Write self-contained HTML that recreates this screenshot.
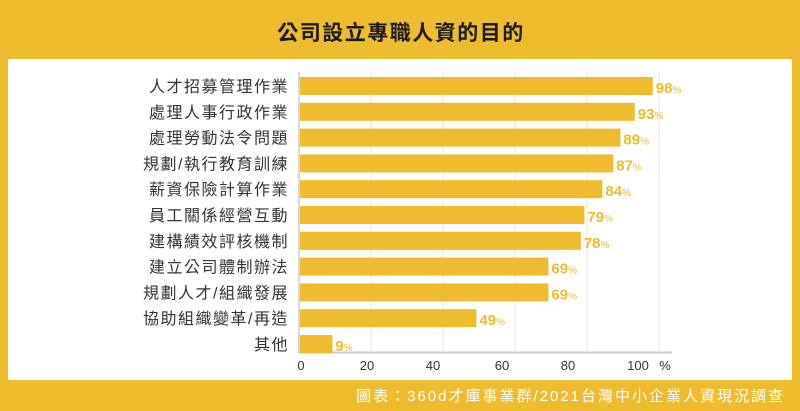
<!DOCTYPE html>
<html><head><meta charset="utf-8"><style>
body{margin:0;width:800px;height:411px;background:#EFBC2F;overflow:hidden;font-family:"Liberation Sans","Noto Sans CJK TC",sans-serif;}
</style></head><body>
<svg width="800" height="411" xmlns="http://www.w3.org/2000/svg" style="position:absolute;left:0;top:0">
<rect x="0" y="0" width="800" height="411" fill="#EFBC2F"/>
<text x="401" y="40" text-anchor="middle" font-size="21" font-weight="bold" letter-spacing="1.5" fill="#1a1a1a" font-family="Liberation Sans, Noto Sans CJK TC, sans-serif">公司設立專職人資的目的</text>
<rect x="8" y="59" width="784" height="321" fill="#fff"/>
<g stroke="#e6e6e6" stroke-width="1">
<line x1="371" y1="72" x2="371" y2="352"/><line x1="443" y1="72" x2="443" y2="352"/><line x1="515" y1="72" x2="515" y2="352"/><line x1="587" y1="72" x2="587" y2="352"/><line x1="659" y1="72" x2="659" y2="352"/>
</g>
<line x1="299" y1="72" x2="299" y2="353" stroke="#ccc" stroke-width="1.5"/>
<line x1="299" y1="352.5" x2="672" y2="352.5" stroke="#ccc" stroke-width="2"/>
<g fill="#EFBC2F" id="bars"></g>
<g id="labels" font-size="16" letter-spacing="1.5" fill="#333" text-anchor="end" font-family="Liberation Sans, Noto Sans CJK TC, sans-serif"></g>
<g id="vals" font-size="15" font-weight="bold" fill="#EFBC2F" font-family="Liberation Sans, sans-serif"></g>
<g font-size="13" fill="#333" text-anchor="middle" font-family="Liberation Sans, sans-serif">
<text x="301" y="370">0</text><text x="367" y="370">20</text><text x="433" y="370">40</text><text x="502" y="370">60</text><text x="568" y="370">80</text><text x="638" y="370">100</text><text x="665" y="370">%</text>
</g>
<text x="785" y="401" text-anchor="end" font-size="15" fill="#fff" letter-spacing="2" font-family="Liberation Sans, Noto Sans CJK TC, sans-serif">圖表：360d才庫事業群/2021台灣中小企業人資現況調查</text>
</svg>
<script>
var d=[["人才招募管理作業",98],["處理人事行政作業",93],["處理勞動法令問題",89],["規劃/執行教育訓練",87],["薪資保險計算作業",84],["員工關係經營互動",79],["建構績效評核機制",78],["建立公司體制辦法",69],["規劃人才/組織發展",69],["協助組織變革/再造",49],["其他",9]];
var ns="http://www.w3.org/2000/svg",b=document.getElementById("bars"),l=document.getElementById("labels"),v=document.getElementById("vals");
d.forEach(function(r,i){var cy=86+i*25.8;
var e=document.createElementNS(ns,"rect");e.setAttribute("x",300);e.setAttribute("y",cy-9);e.setAttribute("width",r[1]*3.6);e.setAttribute("height",18);b.appendChild(e);
var t=document.createElementNS(ns,"text");t.setAttribute("x",289);t.setAttribute("y",cy+6);t.textContent=r[0];l.appendChild(t);
var u=document.createElementNS(ns,"text");u.setAttribute("x",303+r[1]*3.6);u.setAttribute("y",cy+7);u.innerHTML=r[1]+'<tspan font-size="10" font-weight="normal">%</tspan>';v.appendChild(u);});
</script>
</body></html>
